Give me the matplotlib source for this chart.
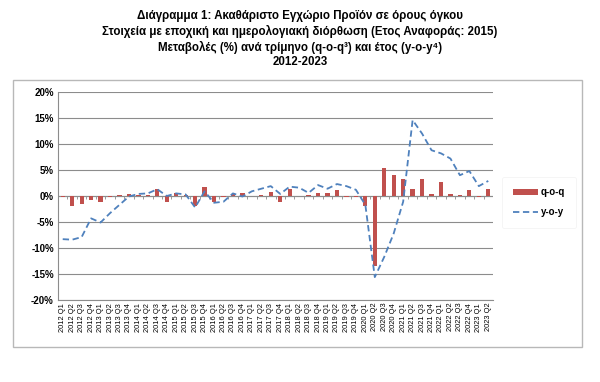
# GDP chart: quarterly (q-o-q) and annual (y-o-y) changes, 2012-2023

import numpy as np
import matplotlib
matplotlib.use("Agg")
import matplotlib.pyplot as plt
from matplotlib.patches import Rectangle

plt.rcParams['font.family'] = ['Liberation Sans', 'DejaVu Sans']

years = [y for y in range(2012, 2024) for q in range(4)][:46]
quarters = ["Q1", "Q2", "Q3", "Q4"] * 12
labels = ["%d %s" % (y, q) for y, q in zip(years, quarters[:46])]

qoq = [-0.1, -2.0, -1.5, -0.8,
       -1.1, -0.2, 0.1, 0.45,
       0.1, 0.2, 1.3, -1.1,
       0.6, 0.1, -1.9, 1.7,
       -1.2, -0.2, 0.3, 0.6,
       0.0, 0.2, 0.8, -1.1,
       1.3, 0.05, 0.1, 0.6,
       0.5, 1.1, -0.2, -0.2,
       -1.9, -13.5, 5.3, 4.0,
       3.3, 1.3, 3.2, 0.4,
       2.7, 0.4, 0.25, 1.1,
       -0.1, 1.3]

yoy = [-8.3, -8.4, -7.9, -4.3,
       -5.1, -3.3, -1.7, -0.1,
       0.4, 0.5, 1.3, 0.0,
       0.5, 0.3, -2.2, 0.9,
       -1.3, -1.1, 0.5, -0.1,
       0.9, 1.4, 1.9, 0.4,
       1.8, 1.6, 0.6, 2.1,
       1.4, 2.3, 1.9, 1.2,
       -1.7, -15.6, -11.7, -7.2,
       -1.1, 14.6, 12.0, 8.8,
       8.2, 7.2, 4.0, 4.8,
       1.9, 2.9]

x = np.arange(len(labels))

fig = plt.figure(figsize=(6, 3.82), dpi=100)

# outer chart frame
fig.add_artist(Rectangle((13/600, 1-347/382), (582-13)/600, (347-80)/382,
                         transform=fig.transFigure, fill=False,
                         edgecolor="#b8b8b8", lw=1.0))

title = ("Διάγραμμα 1: Ακαθάριστο Εγχώριο Προϊόν σε όρους όγκου\n"
         "Στοιχεία με εποχική και ημερολογιακή διόρθωση (Ετος Αναφοράς: 2015)\n"
         "Μεταβολές (%) ανά τρίμηνο (q-o-q³) και έτος (y-o-y⁴)\n"
         "2012-2023")
fig.text(0.5, 1-39/382, title, ha="center", va="center", fontsize=8.3,
         fontweight="bold", linespacing=1.3)

ax = fig.add_axes([58/600, 1-300/382, (493-58)/600, (300-92)/382])
bars = ax.bar(x, qoq, width=0.45, color="#C0504D", label="q-o-q", zorder=3)
line, = ax.plot(x, yoy, color="#4F81BD", lw=1.3, ls=(0, (3.5, 2)), label="y-o-y", zorder=4)

ax.set_xlim(-0.5, len(labels) - 0.5)
ax.set_ylim(-20, 20)
ax.set_yticks(np.arange(-20, 21, 5))
ax.set_yticklabels(["%d%%" % v for v in range(-20, 21, 5)], fontsize=7, fontweight="bold")
ax.set_xticks(x)
ax.set_xticklabels(labels, rotation=90, fontsize=5.4)
ax.tick_params(axis="x", length=0, pad=2)
ax.tick_params(axis="y", length=0, pad=3)

ax.grid(axis="y", color="#8c8c8c", lw=0.8, zorder=0)
for s in ["top", "right"]:
    ax.spines[s].set_visible(False)
ax.spines["left"].set_color("#8c8c8c")
ax.spines["bottom"].set_color("#8c8c8c")

# category axis at zero with small tick marks
ax.axhline(0, color="#8c8c8c", lw=0.8, zorder=2)
ax.vlines(np.arange(len(labels) + 1) - 0.5, -0.5, 0, color="#8c8c8c", lw=0.6, zorder=2)

leg = ax.legend([bars, line], ["q-o-q", "y-o-y"], loc="center left",
                bbox_to_anchor=(1.01, 0.47), frameon=True,
                prop={"weight": "bold", "size": 7}, handlelength=2.6,
                handleheight=0.6, handletextpad=0.3,
                labelspacing=1.0, borderpad=1.1)
leg.get_frame().set_edgecolor("#f2f2f2")
leg.get_frame().set_linewidth(0.5)
leg.get_frame().set_alpha(1)

fig.savefig("out.png", dpi=100)
